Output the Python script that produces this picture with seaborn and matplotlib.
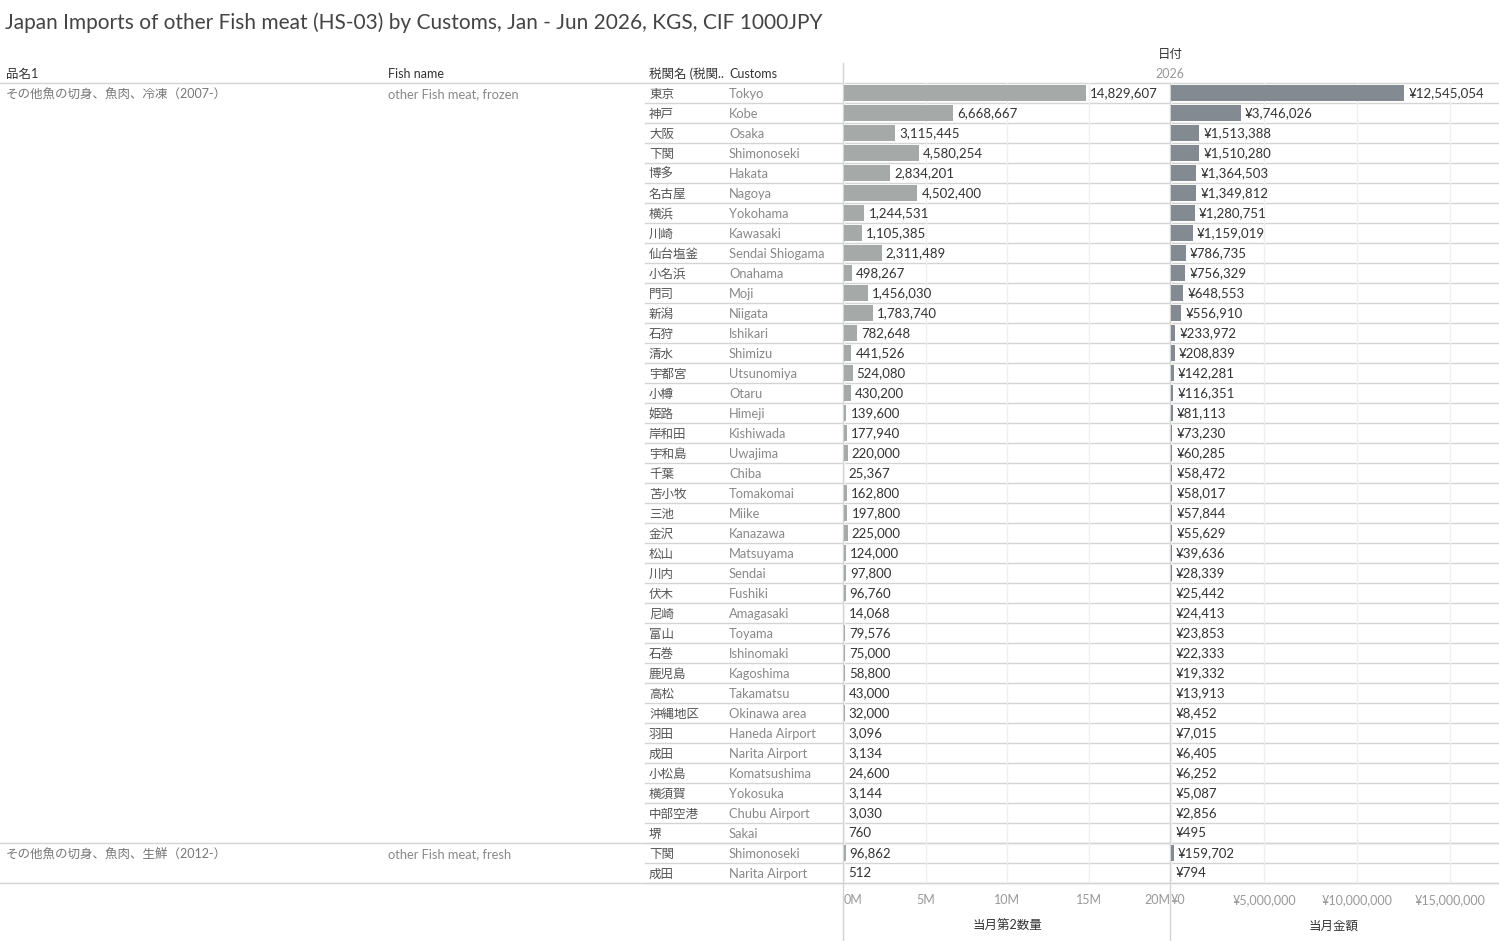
import pandas as pd
import matplotlib
matplotlib.use("Agg")
import matplotlib.pyplot as plt
import seaborn as sns

# data
customs_jp = ['東京', '神戸', '大阪', '下関', '博多', '名古屋', '横浜', '川崎', '仙台塩釜', '小名浜',
              '門司', '新潟', '石狩', '清水', '宇都宮', '小樽', '姫路', '岸和田', '宇和島', '千葉',
              '苫小牧', '三池', '金沢', '松山', '川内', '伏木', '尼崎', '富山', '石巻', '鹿児島',
              '高松', '沖縄地区', '羽田', '成田', '小松島', '横須賀', '中部空港', '堺',
              '下関', '成田']
customs_en = ['Tokyo', 'Kobe', 'Osaka', 'Shimonoseki', 'Hakata', 'Nagoya', 'Yokohama', 'Kawasaki',
              'Sendai Shiogama', 'Onahama', 'Moji', 'Niigata', 'Ishikari', 'Shimizu', 'Utsunomiya',
              'Otaru', 'Himeji', 'Kishiwada', 'Uwajima', 'Chiba', 'Tomakomai', 'Miike', 'Kanazawa',
              'Matsuyama', 'Sendai', 'Fushiki', 'Amagasaki', 'Toyama', 'Ishinomaki', 'Kagoshima',
              'Takamatsu', 'Okinawa area', 'Haneda Airport', 'Narita Airport', 'Komatsushima',
              'Yokosuka', 'Chubu Airport', 'Sakai',
              'Shimonoseki', 'Narita Airport']
quantity = [14829607, 6668667, 3115445, 4580254, 2834201, 4502400, 1244531, 1105385, 2311489, 498267,
            1456030, 1783740, 782648, 441526, 524080, 430200, 139600, 177940, 220000, 25367,
            162800, 197800, 225000, 124000, 97800, 96760, 14068, 79576, 75000, 58800,
            43000, 32000, 3096, 3134, 24600, 3144, 3030, 760,
            96862, 512]
amount = [12545054, 3746026, 1513388, 1510280, 1364503, 1349812, 1280751, 1159019, 786735, 756329,
          648553, 556910, 233972, 208839, 142281, 116351, 81113, 73230, 60285, 58472,
          58017, 57844, 55629, 39636, 28339, 25442, 24413, 23853, 22333, 19332,
          13913, 8452, 7015, 6405, 6252, 5087, 2856, 495,
          159702, 794]
product_jp = ['その他魚の切身、魚肉、冷凍（2007-）', 'その他魚の切身、魚肉、生鮮（2012-）']
product_en = ['other Fish meat, frozen', 'other Fish meat, fresh']
group_sizes = [38, 2]
qty_ticks = [0, 5e6, 10e6, 15e6, 20e6]
qty_tick_labels = ['0M', '5M', '10M', '15M', '20M']
amt_ticks = [0, 5e6, 10e6, 15e6]
amt_tick_labels = ['¥0', '¥5,000,000', '¥10,000,000', '¥15,000,000']

df = pd.DataFrame({
    'row': [f'{i}' for i in range(len(customs_jp))],
    'jp': customs_jp, 'en': customs_en,
    'qty': quantity, 'amt': amount,
})

plt.rcParams['font.family'] = ['Lato', 'Noto Sans CJK JP', 'DejaVu Sans']

W, H = 1499, 941
fig = plt.figure(figsize=(W / 100, H / 100), dpi=100)

# background axis in pixel coords for the table part
bg = fig.add_axes([0, 0, 1, 1], zorder=0)
bg.set_xlim(0, W)
bg.set_ylim(H, 0)
bg.axis('off')

top, rh = 83, 20
n = len(df)
line_c = '#d4d4d4'
VA = 'center_baseline'

bg.text(5, 21, 'Japan Imports of other Fish meat (HS-03) by Customs, Jan - Jun 2026, KGS, CIF 1000JPY',
        fontsize=15, color='#444444', va=VA, ha='left')
bg.text(1170, 53, '日付', fontsize=9, color='#333333', ha='center', va=VA)
bg.text(1170, 73, '2026', fontsize=9, color='#999999', ha='center', va=VA)
for x, t in [(6, '品名1'), (388, 'Fish name'), (649, '税関名 (税関..'), (729, 'Customs')]:
    bg.text(x, 73, t, fontsize=9, color='#333333', ha='left', va=VA)

# rows
for i in range(n):
    y = top + rh * i + rh / 2
    bg.text(649, y, df.jp[i], fontsize=9, color='#555555', ha='left', va=VA)
    bg.text(729, y, df.en[i], fontsize=9.3, color='#888888', ha='left', va=VA)

start = 0
for k, size in enumerate(group_sizes):
    y = top + rh * start + rh / 2
    bg.text(6, y + 1, product_jp[k], fontsize=9, color='#777777', ha='left', va=VA)
    bg.text(388, y, product_en[k], fontsize=9.3, color='#888888', ha='left', va=VA)
    start += size

# grid lines of the table
bg.plot([0, W], [top, top], color=line_c, lw=1)
for i in range(1, n + 1):
    y = top + rh * i
    bg.plot([645, W], [y, y], color=line_c, lw=1)
start = 0
for size in group_sizes:
    start += size
    y = top + rh * start
    bg.plot([0, W], [y, y], color=line_c, lw=1)
bg.plot([843, 843], [63, H], color=line_c, lw=1)
bg.plot([1170, 1170], [top, H], color=line_c, lw=1)


def px_axes(x0, x1, y0, y1):
    return fig.add_axes([x0 / W, 1 - y1 / H, (x1 - x0) / W, (y1 - y0) / H], zorder=1)


ax1 = px_axes(844, 1170, top, top + rh * n)
ax2 = px_axes(1171, 1497, top, top + rh * n)

sns.barplot(data=df, x='qty', y='row', orient='h', color='#a5aaa9', width=0.8,
            saturation=1, ax=ax1, zorder=2)
sns.barplot(data=df, x='amt', y='row', orient='h', color='#838a91', width=0.8,
            saturation=1, ax=ax2, zorder=2)

ax1.bar_label(ax1.containers[0], labels=[f'{v:,}' for v in quantity], padding=3,
              fontsize=9.5, color='#333333')
ax2.bar_label(ax2.containers[0], labels=[f'¥{v:,}' for v in amount], padding=3,
              fontsize=9.5, color='#333333')

for ax, xmax, ticks, labels, title in [
        (ax1, 20.0e6, qty_ticks, qty_tick_labels, '当月第2数量'),
        (ax2, 17.53e6, amt_ticks, amt_tick_labels, '当月金額')]:
    ax.set_facecolor('none')
    ax.set_xlim(0, xmax)
    ax.set_ylim(n - 0.5, -0.5)
    ax.set_xticks(ticks)
    ax.set_xticklabels(labels)
    ax.set_yticks([])
    ax.set_ylabel('')
    ax.set_xlabel(title, fontsize=9, color='#333333', labelpad=10)
    ax.tick_params(axis='x', length=0, pad=8, labelsize=9, labelcolor='#999999')
    ax.grid(axis='x', color='#efefef', lw=1, zorder=0)
    ax.set_axisbelow(True)
    for s in ax.spines.values():
        s.set_visible(False)
    tl = ax.get_xticklabels()
    tl[0].set_ha('left')
    if ax is ax1:
        tl[-1].set_ha('right')

fig.savefig('out.png', dpi=100)
